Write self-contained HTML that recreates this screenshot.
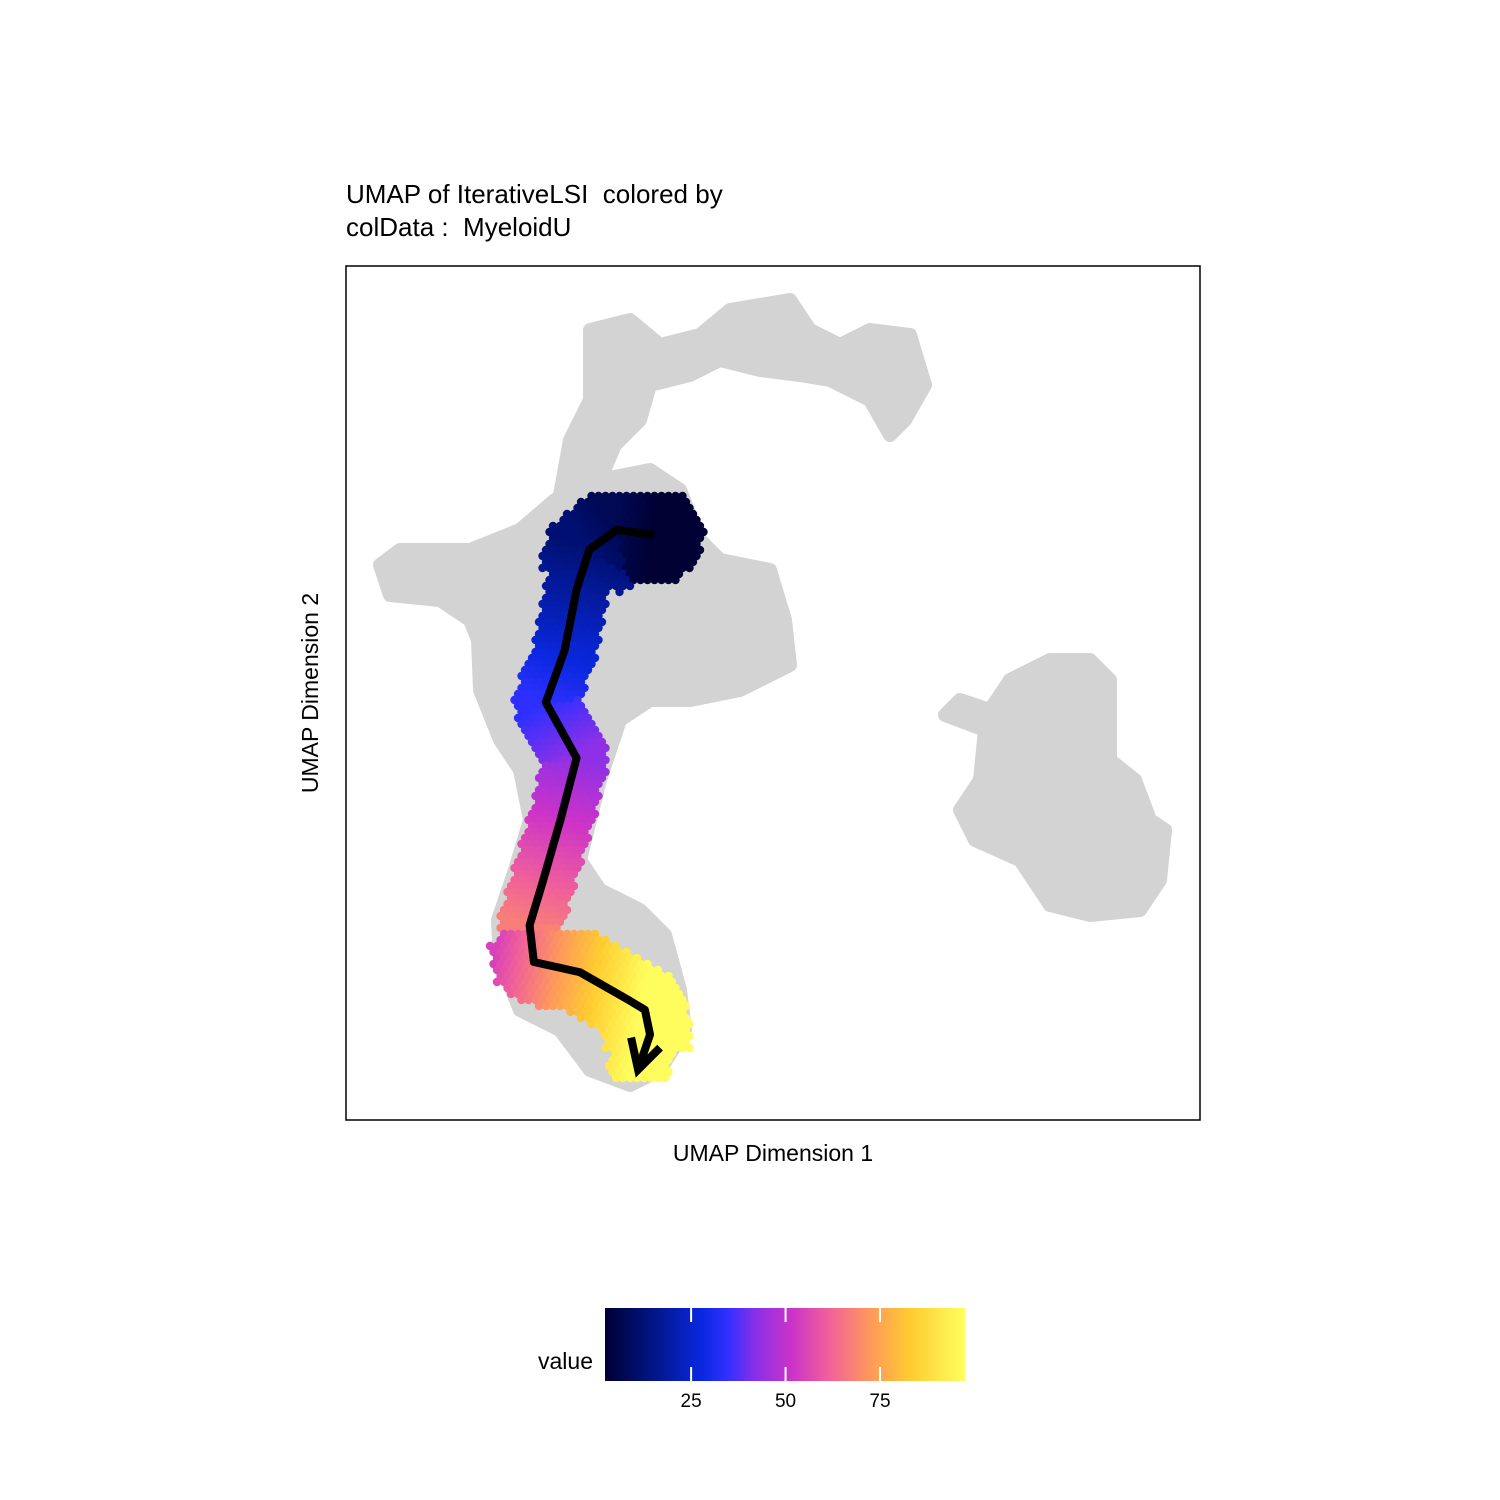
<!DOCTYPE html>
<html><head><meta charset="utf-8"><style>
body{margin:0;background:#fff;}
svg{display:block;font-family:"Liberation Sans",Arial,sans-serif;}
</style></head><body>
<svg width="1500" height="1500" viewBox="0 0 1500 1500">
<defs>
<linearGradient id="cb" x1="0" x2="1" y1="0" y2="0">
<stop offset="0" stop-color="#000033"/><stop offset="0.1" stop-color="#001070"/><stop offset="0.27" stop-color="#0a28e0"/><stop offset="0.34" stop-color="#3030ff"/><stop offset="0.42" stop-color="#8a30e8"/><stop offset="0.52" stop-color="#cc33c8"/><stop offset="0.62" stop-color="#f0609a"/><stop offset="0.74" stop-color="#ff9a5a"/><stop offset="0.85" stop-color="#ffcc30"/><stop offset="1" stop-color="#ffff60"/>
</linearGradient>
<clipPath id="pc"><rect x="346" y="266" width="854" height="854"/></clipPath>
</defs>
<text x="346" y="203" font-size="26">UMAP of IterativeLSI&#160; colored by</text>
<text x="346" y="236" font-size="26">colData :&#160; MyeloidU</text>
<g id="plot" clip-path="url(#pc)"></g>
<rect x="346" y="266" width="854" height="854" fill="none" stroke="#000" stroke-width="1.5"/>
<text x="773" y="1161" font-size="23" text-anchor="middle">UMAP Dimension 1</text>
<text x="318" y="693" font-size="23" text-anchor="middle" transform="rotate(-90 318 693)">UMAP Dimension 2</text>
<text x="593" y="1369" font-size="23" text-anchor="end">value</text>
<rect x="605" y="1308" width="360" height="73" fill="url(#cb)"/>
<g id="cbticks"></g>
</svg>
<script>
const trajX=[36.1,31.7,28.5,27.0,25.6,23.4,27.0,25.1,23.1,21.5,22.0,27.4,33.0,35.0,35.6,34.2];
const trajY=[68.5,69.1,66.8,62.1,55.0,48.9,42.4,35.1,28.1,22.8,18.5,17.3,14.1,12.9,10.0,5.9];
const cbTicks=[25,50,75];
const cbMin=2.2, cbMax=97.5;
const X=v=>346+v*8.54, Y=v=>1120-v*8.54;
const ns="http://www.w3.org/2000/svg";
const plot=document.getElementById('plot');
function mk(t,a,p){const e=document.createElementNS(ns,t);for(const k in a)e.setAttribute(k,a[k]);(p||plot).appendChild(e);return e;}
const blobs=[
"590,330 630,320 660,345 700,335 730,310 790,300 810,330 840,345 870,330 910,335 925,385 905,420 890,435 870,400 830,380 800,375 760,370 720,360 690,375 650,385 640,420 615,445 600,480 580,500 560,495 570,440 590,400",
"555,500 600,480 650,470 680,490 700,540 720,560 770,570 785,620 790,665 740,690 690,700 650,700 620,720 600,780 580,860 600,890 640,910 665,935 680,990 685,1030 660,1070 630,1085 590,1070 560,1030 520,1010 500,960 498,920 515,870 530,820 520,770 500,740 480,690 478,640 470,620 440,600 390,595 380,565 400,550 470,550 520,530",
"1010,680 1050,660 1090,660 1110,680 1110,760 1135,780 1150,820 1165,830 1160,880 1140,910 1090,915 1050,905 1020,860 975,840 960,810 980,780 985,730 945,715 960,700 990,710"];
blobs.forEach((p,i)=>{const e=mk('polygon',{points:p,fill:'#d3d3d3',stroke:'#d3d3d3','stroke-width':14,'stroke-linejoin':'round'});

});
const cs=[[0,[0,0,51]],[.1,[0,16,112]],[.27,[10,40,224]],[.34,[48,48,255]],[.42,[138,48,232]],[.52,[204,51,200]],[.62,[240,96,154]],[.74,[255,154,90]],[.85,[255,204,48]],[1,[255,255,96]]];
function cmap(v){let f=(v-cbMin)/(cbMax-cbMin);f=Math.max(0,Math.min(1,f));for(let i=1;i<cs.length;i++){if(f<=cs[i][0]){const a=cs[i-1],b=cs[i],u=(f-a[0])/(b[0]-a[0]);return 'rgb('+a[1].map((c,j)=>Math.round(c+(b[1][j]-c)*u)).join(',')+')';}}return 'rgb(255,255,96)';}
const P=trajX.map((x,i)=>[X(x),Y(trajY[i])]);
const seg=[0];for(let i=1;i<P.length;i++)seg.push(seg[i-1]+Math.hypot(P[i][0]-P[i-1][0],P[i][1]-P[i-1][1]));
const L=seg[seg.length-1];
function proj(x,y){let best=1e9,bt=0;for(let i=1;i<P.length;i++){const a=P[i-1],b=P[i];const dx=b[0]-a[0],dy=b[1]-a[1];let u=((x-a[0])*dx+(y-a[1])*dy)/(dx*dx+dy*dy);u=Math.max(0,Math.min(1,u));const d=Math.hypot(x-a[0]-u*dx,y-a[1]-u*dy);if(d<best){best=d;bt=(seg[i-1]+u*(seg[i]-seg[i-1]))/L;}}return [best,bt];}
const g=mk('g',{});


for(let yy=496;yy<1082;yy+=6){const off=(Math.round(yy/6)%2)*3.5;for(let xx=490+off;xx<705;xx+=7){const [d,t]=proj(xx,yy);let w=t<0.15?44:t<0.55?32:t<0.7?32:42;if(yy<590&&xx>600)w=50;if(yy>1050)w=30;if(d<w){let v=2+t*96;if(yy>930)v=Math.min(97,Math.max(55,55+(xx-500)*0.27+(yy-930)*0.05));mk('circle',{cx:xx,cy:yy,r:4.2,fill:cmap(v)},g);}}}
const line=mk('polyline',{points:P.map(p=>p.join(',')).join(' '),fill:'none',stroke:'#000','stroke-width':8,'stroke-linejoin':'round'});


const e=P[P.length-1];
const ah=mk('polyline',{points:(e[0]-7)+','+(e[1]-32)+' '+e[0]+','+e[1]+' '+(e[0]+22)+','+(e[1]-22),fill:'none',stroke:'#000','stroke-width':8});


const cbt=document.getElementById('cbticks');
const CX=v=>605+(v-cbMin)/(cbMax-cbMin)*360;
cbTicks.forEach(v=>{
mk('line',{x1:CX(v),x2:CX(v),y1:1308,y2:1322,stroke:'#fff','stroke-width':2},cbt);
mk('line',{x1:CX(v),x2:CX(v),y1:1367,y2:1381,stroke:'#fff','stroke-width':2},cbt);
const t=mk('text',{x:CX(v),y:1407,'font-size':19,'text-anchor':'middle'},cbt);t.textContent=v;

});
</script>
</body></html>
